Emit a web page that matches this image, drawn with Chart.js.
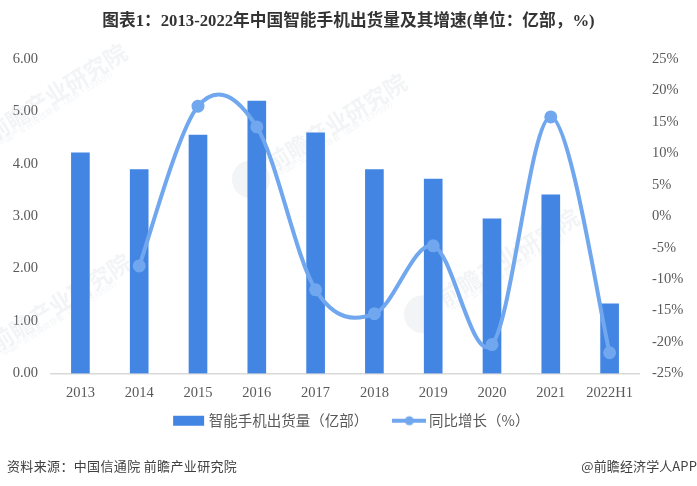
<!DOCTYPE html>
<html>
<head>
<meta charset="utf-8">
<script src="https://cdn.jsdelivr.net/npm/chart.js@4"></script>
<style>
  html, body { margin: 0; padding: 0; background: #fff; }
  #wrap { position: relative; width: 697px; height: 486px; overflow: hidden; }
  .foot { position: absolute; top: 457px; font: 13px "Noto Sans CJK SC", sans-serif; color: #404040; line-height: 18px; white-space: nowrap; }
</style>
</head>
<body>
<div id="wrap">
  <canvas id="chart" width="697" height="486"></canvas>
  <div class="foot" style="left:7px;letter-spacing:0.35px">资料来源：中国信通院 前瞻产业研究院</div>
  <div class="foot" style="right:0;letter-spacing:0.1px">@前瞻经济学人APP</div>
</div>
<script>
const years = ["2013", "2014", "2015", "2016", "2017", "2018", "2019", "2020", "2021", "2022H1"];
const shipments = [4.21, 3.89, 4.55, 5.2, 4.59, 3.89, 3.71, 2.95, 3.41, 1.33];
const growth = [null, -7.9, 17.5, 14.2, -11.7, -15.5, -4.7, -20.4, 15.8, -21.7];
const titleText = "图表1：2013-2022年中国智能手机出货量及其增速(单位：亿部，%)";
const cjk = '"Noto Sans CJK SC"';
const serif = '"Liberation Serif", "Noto Sans CJK SC"';

// 图例小图标
function legendIcon(draw) {
  const c = document.createElement("canvas");
  c.width = 34;
  c.height = 12;
  draw(c.getContext("2d"));
  return c;
}
const legendIcons = [
  legendIcon(g => {
    g.fillStyle = "#4285e3";
    g.fillRect(1, 1, 31, 10);
  }),
  legendIcon(g => {
    g.strokeStyle = g.fillStyle = "#70a7ee";
    g.lineWidth = 4;
    g.beginPath();
    g.moveTo(0, 6);
    g.lineTo(34, 6);
    g.stroke();
    g.beginPath();
    g.arc(17, 6, 4.5, 0, Math.PI * 2);
    g.fill();
  })
];

// 水印
const watermark = {
  id: "watermark",
  beforeDatasetsDraw(chart) {
    const g = chart.ctx;
    [[-12, 135], [268, 165], [440, 300], [-8, 345]].forEach(p => {
      g.save();
      g.translate(p[0], p[1]);
      g.rotate(-32 * Math.PI / 180);
      g.fillStyle = "rgba(190,198,212,0.2)";
      g.beginPath();
      g.arc(-22, 3, 19, 0, Math.PI * 2);
      g.fill();
      g.font = '700 23px "Noto Sans CJK SC"';
      g.fillText("前瞻产业研究院", 0, 0);
      g.font = '8px "Noto Sans CJK SC"';
      g.fillText("中国产业咨询领导者（股票·839599）", 4, 13);
      g.restore();
    });
  }
};

// 折线平滑：控制点按前后两点等距计算，不按点间距离加权
const evenSpline = {
  id: "evenSpline",
  beforeDatasetDraw(chart, args) {
    if (args.meta.type !== "line") return;
    const pts = args.meta.data.filter(p => !p.skip);
    pts.forEach((p, i) => {
      const prev = pts[i - 1] || p;
      const next = pts[i + 1] || p;
      const dx = (next.x - prev.x) / 6;
      const dy = (next.y - prev.y) / 6;
      p.cp1x = p.x - dx;
      p.cp1y = p.y - dy;
      p.cp2x = p.x + dx;
      p.cp2y = p.y + dy;
    });
    args.meta.dataset._pointsUpdated = true;
  }
};

// 图例整体右移一点
const legendNudge = {
  id: "legendNudge",
  afterLayout(chart) {
    chart.legend.left += 4.5;
    chart.legend.right += 4.5;
  }
};

new Chart(document.getElementById("chart"), {
  data: {
    labels: years,
    datasets: [
      {
        type: "bar",
        label: "智能手机出货量（亿部）",
        data: shipments,
        yAxisID: "y",
        order: 2,
        backgroundColor: "#4285e3",
        barThickness: 18
      },
      {
        type: "line",
        label: "同比增长（%）",
        data: growth,
        yAxisID: "y2",
        order: 1,
        borderColor: "#70a7ee",
        backgroundColor: "#70a7ee",
        borderWidth: 4,
        tension: 0.5,
        pointRadius: 4.5,
        pointStyle: "circle"
      }
    ]
  },
  options: {
    responsive: false,
    animation: false,
    layout: { padding: { top: 12, bottom: 48, left: 0, right: 0 } },
    scales: {
      x: {
        grid: { display: false },
        border: { color: "#d9d9d9", width: 1.5 },
        ticks: { color: "#595959", font: { family: serif, size: 14.5 }, maxRotation: 0, autoSkip: false, padding: 3 },
        afterFit(axis) { axis.height = 26; }
      },
      y: {
        position: "left",
        min: 0,
        max: 6,
        grid: { display: false },
        border: { display: false },
        ticks: { stepSize: 1, color: "#595959", font: { family: serif, size: 14.5 }, padding: 5, callback: v => v.toFixed(2) },
        afterFit(axis) { axis.width = 51; }
      },
      y2: {
        position: "right",
        min: -25,
        max: 25,
        grid: { display: false },
        border: { display: false },
        ticks: { stepSize: 5, color: "#595959", font: { family: serif, size: 14.5 }, padding: 5, callback: v => v + "%" },
        afterFit(axis) { axis.width = 58; }
      }
    },
    plugins: {
      title: {
        display: true,
        text: titleText,
        color: "#333333",
        font: { family: serif, size: 16.7, weight: "bold" },
        padding: { top: 0, bottom: 27 }
      },
      legend: {
        position: "bottom",
        labels: {
          usePointStyle: true,
          pointStyleWidth: 25,
          boxHeight: 12,
          color: "#595959",
          padding: 14,
          font: { family: cjk, size: 14.5 },
          sort: (a, b) => a.datasetIndex - b.datasetIndex,
          generateLabels(chart) {
            const items = Chart.defaults.plugins.legend.labels.generateLabels(chart);
            // 第一项后面多留全角加半角空格，拉开两个图例的距离
            return items.map(item => ({
              ...item,
              text: item.datasetIndex === 0 ? item.text + "　\u2002" : item.text,
              pointStyle: legendIcons[item.datasetIndex]
            }));
          }
        }
      },
      tooltip: { enabled: false }
    }
  },
  plugins: [watermark, evenSpline, legendNudge]
});
</script>
</body>
</html>
